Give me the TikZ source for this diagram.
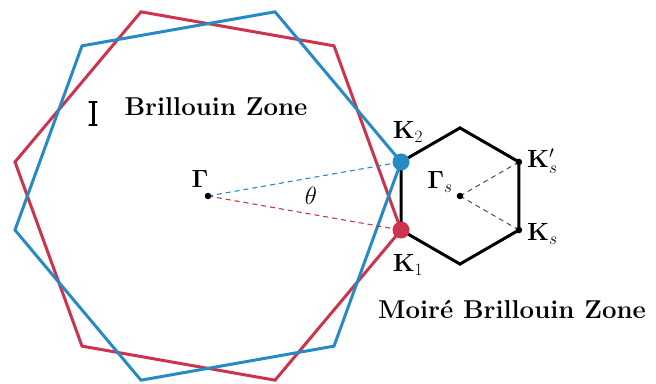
\documentclass[tikz,border=0pt]{standalone}
\usetikzlibrary{calc}
\definecolor{bzblue}{RGB}{38,139,196}
\definecolor{bzred}{RGB}{204,52,77}
\definecolor{dashgray}{RGB}{90,90,90}
\tikzset{
  every node/.style={font=\fontsize{25.8}{31}\selectfont, inner sep=0pt},
  hexline/.style={line width=3pt, line join=miter},
  thindash/.style={line width=1.1pt, dash pattern=on 5pt off 4pt},
  bigdot/.style={circle, fill, minimum size=17pt, inner sep=0pt},
  smalldot/.style={circle, fill=black, minimum size=6.5pt, inner sep=0pt},
}
\begin{document}
\begin{tikzpicture}[x=1pt,y=1pt]
\useasboundingbox (0,0) rectangle (656,383);
\coordinate (G) at (208,187);
\foreach \i in {0,...,5} {
  \coordinate (B\i) at ($(G)+({10+60*\i}:196)$);
  \coordinate (R\i) at ($(G)+({-10+60*\i}:196)$);
}
\coordinate (Gs) at ($(B0)+(-30:68.07)$);
\foreach \i in {0,...,5} {
  \coordinate (S\i) at ($(Gs)+({30+60*\i}:68.07)$);
}
% big hexagons
\draw[hexline, bzred] (R0)--(R1)--(R2)--(R3)--(R4)--(R5)--cycle;
\draw[hexline, bzblue] (B0)--(B1)--(B2)--(B3)--(B4)--(B5)--cycle;
% small hexagon
\draw[hexline, black] (S0)--(S1)--(S2)--(S3)--(S4)--(S5)--cycle;
% dashed lines
\draw[thindash, bzblue] (G)--(B0);
\draw[thindash, bzred] (G)--(R0);
\draw[thindash, dashgray] (Gs)--(S0);
\draw[thindash, dashgray] (Gs)--(S5);
% dots
\node[smalldot] (Gdot) at (G) {};
\node[smalldot] (Gsdot) at (Gs) {};
\node[smalldot] (Kspdot) at (S0) {};
\node[smalldot] (Ksdot) at (S5) {};
\node[bigdot, fill=bzblue] (K2dot) at (B0) {};
\node[bigdot, fill=bzred] (K1dot) at (R0) {};
% labels
\node (Glab) at (200,204) {$\mathbf{\Gamma}$};
\node (theta) at (311,187) {$\theta$};
\node (K2lab) at (408,251) {$\mathbf{K}_2$};
\node (K1lab) at (408,118) {$\mathbf{K}_1$};
\node[anchor=west] (Ksplab) at (527,222) {$\mathbf{K}'_s$};
\node[anchor=west] (Kslab) at (527,149) {$\mathbf{K}_s$};
\node (Gslab) at (440,201) {$\mathbf{\Gamma}_s$};
\node (BZ) at (216,276) {\textbf{Brillouin Zone}};
\node (MBZ) at (512,74) {\textbf{Moiré Brillouin Zone}};
% I-beam cursor
\draw[line width=3pt] (93,259)--(93,280);
\draw[line width=2.6pt, line cap=round] (89.5,281)--(96.5,281);
\draw[line width=2.6pt, line cap=round] (89.5,258)--(96.5,258);
\end{tikzpicture}
\end{document}
